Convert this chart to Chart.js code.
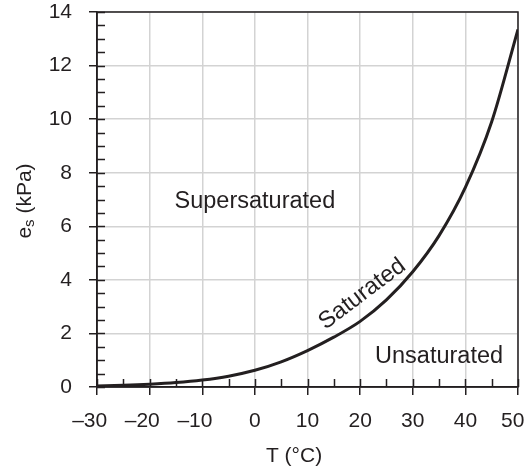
<!DOCTYPE html>
<html>
<head>
<meta charset="utf-8">
<script src="https://cdn.jsdelivr.net/npm/chart.js@4.4.1/dist/chart.umd.min.js"></script>
<style>
  html, body { margin: 0; padding: 0; background: #ffffff; }
  #wrap { width: 527px; height: 474px; }
</style>
</head>
<body>
<div id="wrap"><canvas id="c" width="527" height="474"></canvas></div>
<script>
// ---- data ----
const temperatureC = [-30, -25, -20, -15, -10, -5, 0, 5, 10, 15, 20, 25, 30, 35, 40, 45, 50];
const satVapourKPa = [0.04, 0.065, 0.105, 0.165, 0.26, 0.405, 0.625, 0.94, 1.36, 1.86, 2.45, 3.25, 4.3, 5.65, 7.45, 9.9, 13.35];
const xTickValues = [-30, -20, -10, 0, 10, 20, 30, 40, 50];
const yTickValues = [0, 2, 4, 6, 8, 10, 12, 14];
const regionLabels = ['Supersaturated', 'Saturated', 'Unsaturated'];
const xTitle = 'T (°C)';
const yTitleMain = 'e', yTitleSub = 's', yTitleRest = ' (kPa)';

const INK = '#231f20';
const GRID = '#d3d3d3';
const FONT = '"Liberation Sans", Arial, Helvetica, sans-serif';

// negative labels: minus hangs to the left of the centred digits; last label nudged inside
function fmtX(v) {
  if (v < 0) return '\u2013' + Math.abs(v) + '\u2002\u2009';
  if (v === xTickValues[xTickValues.length - 1]) return String(v) + '\u2002';
  return String(v);
}

const decor = {
  id: 'decor',
  afterDraw(chart) {
    const { ctx, chartArea: a, scales: { x, y } } = chart;
    ctx.save();
    ctx.strokeStyle = INK;
    ctx.lineWidth = 1.5;
    ctx.strokeRect(a.left, a.top, a.right - a.left, a.bottom - a.top);
    ctx.beginPath();
    for (let v = 0; v <= 14.001; v += 0.5) {
      const py = Math.round(y.getPixelForValue(v)) + 0.5;
      ctx.moveTo(a.left, py); ctx.lineTo(a.left + 8, py);
    }
    for (let v = -30; v <= 50.001; v += 5) {
      const px = Math.round(x.getPixelForValue(v)) + 0.5;
      ctx.moveTo(px, a.bottom); ctx.lineTo(px, a.bottom - 8);
    }
    ctx.stroke();

    ctx.fillStyle = INK;
    ctx.font = '23.5px ' + FONT;
    ctx.textAlign = 'center';
    ctx.textBaseline = 'alphabetic';
    ctx.fillText(regionLabels[0], x.getPixelForValue(0), y.getPixelForValue(6.68));
    ctx.fillText(regionLabels[2], x.getPixelForValue(35), y.getPixelForValue(0.9));
    ctx.save();
    ctx.translate(x.getPixelForValue(20.4), y.getPixelForValue(3.47));
    ctx.rotate(-37 * Math.PI / 180);
    ctx.textBaseline = 'middle';
    ctx.fillText(regionLabels[1], 0, 0);
    ctx.restore();

    ctx.font = '21px ' + FONT;
    ctx.textAlign = 'center';
    ctx.textBaseline = 'alphabetic';
    ctx.fillText(xTitle, a.left + (a.right - a.left) * 0.468, 462);

    ctx.save();
    ctx.translate(31, (a.top + a.bottom) / 2 + 1.5);
    ctx.rotate(-Math.PI / 2);
    ctx.textAlign = 'left';
    const fMain = '21px ' + FONT, fSub = '15px ' + FONT;
    ctx.font = fMain; const w1 = ctx.measureText(yTitleMain).width;
    ctx.font = fSub; const w2 = ctx.measureText(yTitleSub).width;
    ctx.font = fMain; const w3 = ctx.measureText(yTitleRest).width;
    let sx = -(w1 + w2 + w3) / 2;
    ctx.font = fMain; ctx.fillText(yTitleMain, sx, 0); sx += w1;
    ctx.font = fSub; ctx.fillText(yTitleSub, sx, 3); sx += w2;
    ctx.font = fMain; ctx.fillText(yTitleRest, sx, 0);
    ctx.restore();

    ctx.restore();
  }
};

new Chart(document.getElementById('c'), {
  type: 'line',
  data: {
    datasets: [{
      data: temperatureC.map((t, i) => ({ x: t, y: satVapourKPa[i] })),
      borderColor: INK,
      borderWidth: 3,
      pointRadius: 0,
      cubicInterpolationMode: 'monotone',
      fill: false
    }]
  },
  options: {
    responsive: false,
    devicePixelRatio: 1,
    animation: false,
    layout: { padding: { top: 12, right: 9, left: 0, bottom: 0 } },
    plugins: { legend: { display: false }, tooltip: { enabled: false } },
    scales: {
      x: {
        type: 'linear',
        min: -30, max: 50,
        afterBuildTicks: s => { s.ticks = xTickValues.map(v => ({ value: v })); },
        afterFit: s => { s.height = 87; s.paddingLeft = 0; s.paddingRight = 0; },
        ticks: { callback: v => fmtX(v), color: INK, font: { family: FONT, size: 21 }, padding: 14, maxRotation: 0, autoSkip: false },
        grid: { color: GRID, lineWidth: 1.5, tickLength: 8, tickColor: INK, tickWidth: 1.5 },
        border: { display: true, color: INK, width: 1.5 }
      },
      y: {
        min: 0, max: 14,
        afterBuildTicks: s => { s.ticks = yTickValues.map(v => ({ value: v })); },
        afterFit: s => { s.width = 97; s.paddingTop = 0; s.paddingBottom = 0; },
        ticks: { callback: v => String(v), color: INK, font: { family: FONT, size: 21 }, padding: 17, autoSkip: false },
        grid: { color: GRID, lineWidth: 1.5, tickLength: 8, tickColor: INK, tickWidth: 1.5 },
        border: { display: true, color: INK, width: 1.5 }
      }
    }
  },
  plugins: [decor]
});
</script>
</body>
</html>
